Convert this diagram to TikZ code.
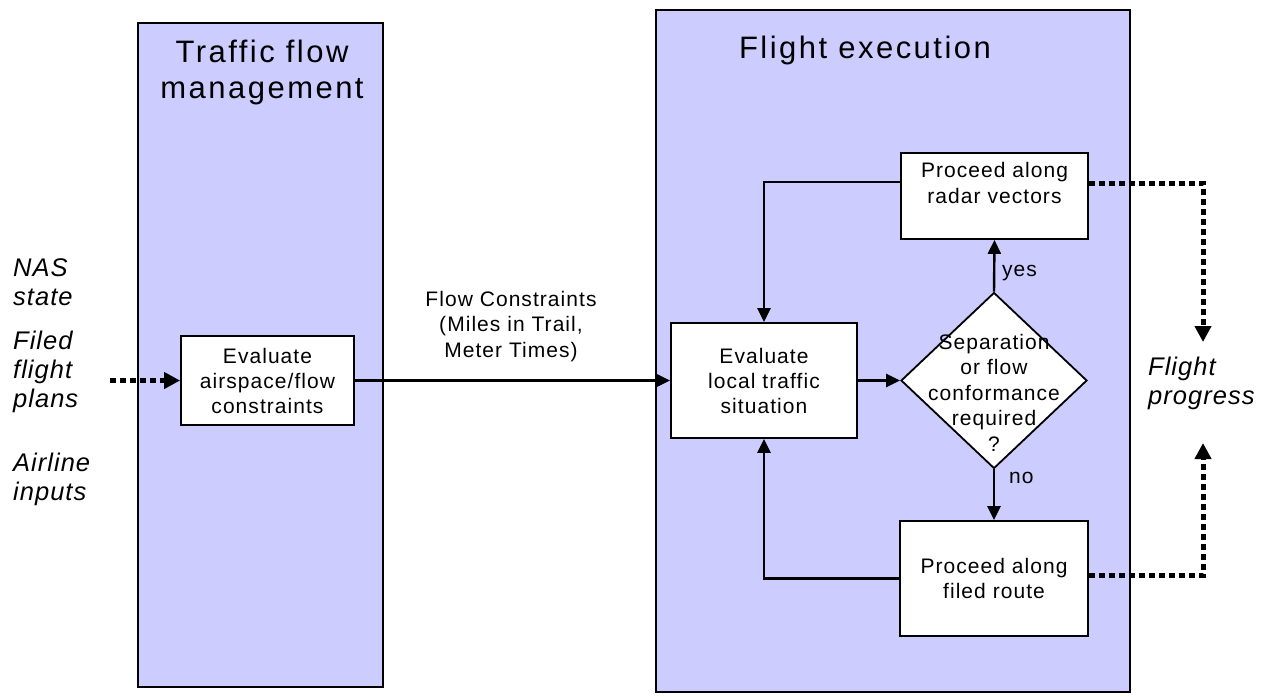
\documentclass[tikz,border=0pt]{standalone}
\usepackage{fontspec}
\setmainfont{Liberation Sans}
\newfontfamily\titlefont[LetterSpace=8]{Liberation Sans}
\newfontfamily\smallfont[LetterSpace=5]{Liberation Sans}
\newfontfamily\itlabelfont[LetterSpace=4]{Liberation Sans}
\usetikzlibrary{arrows.meta,shapes.geometric,calc}
\definecolor{lav}{RGB}{204,204,255}
\begin{document}
\begin{tikzpicture}[x=1pt,y=-1pt,
  panel/.style={draw, line width=2pt, fill=lav, rectangle, inner sep=0pt},
  procbox/.style={draw, line width=1.8pt, fill=white, rectangle, inner sep=0pt, align=center,
    font=\smallfont\fontsize{21pt}{25pt}\selectfont},
  decbox/.style={draw, line width=1.8pt, fill=white, diamond, inner sep=0pt},
  titletxt/.style={inner sep=0pt, align=center, anchor=base, font=\titlefont\fontsize{31pt}{36pt}\selectfont},
  smalltxt/.style={inner sep=0pt, align=center, anchor=base, font=\smallfont\fontsize{21pt}{25.5pt}\selectfont},
  ittxt/.style={inner sep=0pt, align=left, anchor=base west, font=\itlabelfont\itshape\fontsize{25.5pt}{29pt}\selectfont},
  flow/.style={line width=2.4pt, -{Triangle[length=14pt,width=13pt]}},
  dotflow/.style={line width=5pt, dash pattern=on 6pt off 4pt, line join=miter, -{Triangle[length=16pt,width=16pt]}}
]
\useasboundingbox (0,0) rectangle (1268,696);

% panels
\node[panel, minimum width=245, minimum height=664] (tfm) at (260.5,355) {};
\node[panel, minimum width=474, minimum height=682] (fex) at (893,351) {};
\node[titletxt] (tfmtitle) at (262,98) {Traffic flow\\management};
\node[titletxt] (fextitle) at (865,58) {Flight execution};

% left labels
\node[ittxt] (nas) at (13,305) {NAS\\state};
\node[ittxt] (filed) at (13,407) {Filed\\flight\\plans};
\node[ittxt] (airline) at (13,500) {Airline\\inputs};
\node[ittxt] (progress) at (1148,404) {Flight\\progress};

% boxes
\node[procbox, minimum width=173, minimum height=89] (airspace) at (267.5,380.5) {Evaluate\\airspace/flow\\constraints};
\node[procbox, minimum width=186, minimum height=115] (local) at (764,380.5) {Evaluate\\local traffic\\situation};
\node[procbox, minimum width=187, minimum height=86] (radar) at (994.5,196) {};
\node[smalltxt] (radartxt) at (994.5,203) {Proceed along\\radar vectors};
\node[procbox, minimum width=188, minimum height=115] (route) at (994,578.5) {Proceed along\\filed route};
\node[decbox, minimum width=186, minimum height=176] (dec) at (994,380.5) {};
\node[smalltxt] (dectxt) at (994,451) {Separation\\or flow\\conformance\\required\\?};

% texts on connectors
\node[smalltxt] (fc) at (511,357) {Flow Constraints\\(Miles in Trail,\\Meter Times)};
\node[smalltxt, anchor=west] (yes) at (1002,273) {yes};
\node[smalltxt, anchor=west] (no) at (1009,478) {no};

% coordinates
\coordinate (inStart) at (110,380.5);
\coordinate (fpTop) at (1203,342);
\coordinate (fpBot) at (1203,443);

% connectors
\draw[dotflow] (inStart) -- (airspace.west);
\draw[flow] (airspace.east) -- (local.west);
\draw[flow] (local.east) -- (dec.west);
\draw[flow] (dec.north) -- (radar.south);
\draw[flow] (dec.south) -- (route.north);
\draw[flow] ([yshift=14pt]radar.west) -| (local.north);
\draw[flow] (route.west) -| (local.south);
\draw[dotflow] ([yshift=13pt]radar.east) -| (fpTop);
\draw[dotflow] ([yshift=3pt]route.east) -| (fpBot);
\end{tikzpicture}
\end{document}
